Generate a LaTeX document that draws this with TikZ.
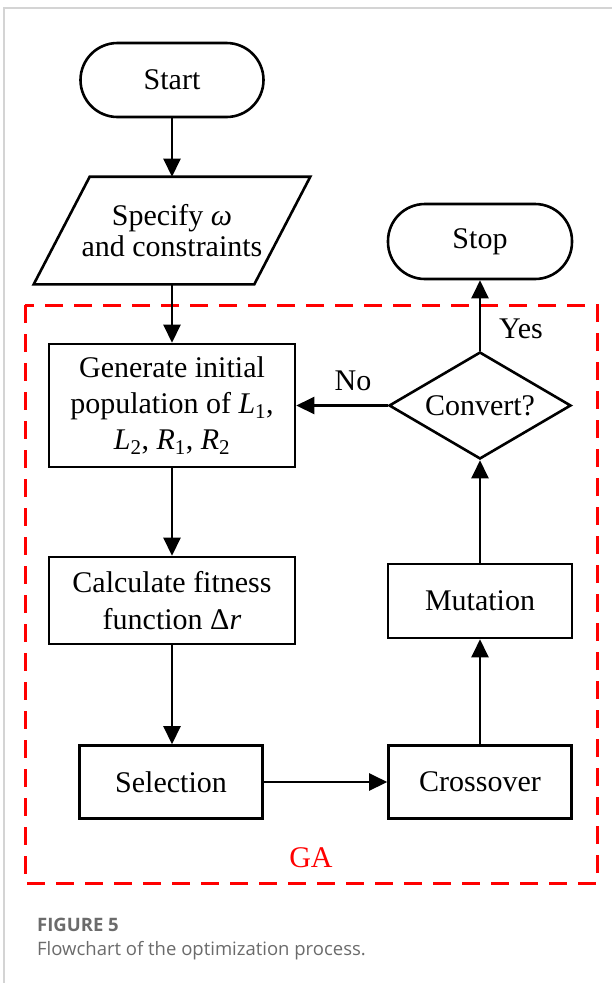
\documentclass[tikz,border=0pt]{standalone}
\usepackage{fontspec}
\setmainfont{Liberation Serif}
\newfontfamily\capfont{Open Sans}
\usetikzlibrary{shapes.geometric,arrows.meta}
\definecolor{capgray}{HTML}{6B6B6B}
\definecolor{framegray}{HTML}{D4D4D4}
\begin{document}
\begin{tikzpicture}[x=1pt,y=-1pt,
  flowbox/.style={draw, line width=2.6pt, rectangle, inner sep=0pt, align=center,
    font=\fontsize{30}{36}\selectfont},
  term/.style={flowbox, rounded corners=37pt},
  arr/.style={line width=2.5pt, -{Triangle[length=18pt,width=17pt]}},
  lbl/.style={font=\fontsize{30}{36}\selectfont, inner sep=0pt}]
\useasboundingbox (0,0) rectangle (612,983);
\fill[white] (0,0) rectangle (612,983);
\draw[framegray, line width=1.5pt] (4,983) -- (4,8) -- (612,8);
% GA region
\draw[red, line width=3pt, dash pattern=on 18pt off 11pt] (25,305) rectangle (597,883);
\node[lbl, text=red] (ga) at (311,858) {GA};
% nodes
\node[term, minimum width=183pt, minimum height=74pt] (start) at (172,80) {Start};
\node[flowbox, draw=none, minimum width=218pt, minimum height=105pt,
  font=\fontsize{30}{31}\selectfont] (spec) at (172,230.5) {Specify \textit{ω}\\and constraints};
\draw[line width=2.6pt, line join=miter]
  ([xshift=28pt]spec.north west) -- ([xshift=28pt]spec.north east) --
  ([xshift=-28pt]spec.south east) -- ([xshift=-28pt]spec.south west) -- cycle;
\node[flowbox, minimum width=246pt, minimum height=123pt] (gen) at (172,405.5)
  {Generate initial\\population of \textit{L}\textsubscript{1},\\\textit{L}\textsubscript{2}, \textit{R}\textsubscript{1}, \textit{R}\textsubscript{2}};
\node[flowbox, minimum width=246pt, minimum height=87pt, font=\fontsize{30}{37}\selectfont] (calc) at (172,600.5)
  {Calculate fitness\\function Δ\textit{r}};
\node[flowbox, minimum width=183pt, minimum height=73pt] (sel) at (171,782) {Selection};
\node[flowbox, minimum width=183pt, minimum height=73pt] (cross) at (480,782) {Crossover};
\node[flowbox, minimum width=184pt, minimum height=74pt] (mut) at (480,601) {Mutation};
\node[flowbox, shape=diamond, minimum width=182pt, minimum height=107pt, aspect=1.7] (conv) at (480,405.5) {Convert?};
\node[term, minimum width=184pt, minimum height=75pt] (stop) at (480,241.5) {Stop};
% connectors
\draw[arr] (start.south) -- (spec.north);
\draw[arr] (spec.south) -- (gen.north);
\draw[arr] (gen.south) -- (calc.north);
\draw[arr] (calc.south) -- (calc.south |- sel.north);
\draw[arr] (sel.east) -- (cross.west);
\draw[arr] (cross.north) -- (mut.south);
\draw[arr] (mut.north) -- (conv.south);
\draw[arr] (conv.north) -- (stop.south);
\draw[arr] (conv.west) -- (conv.west -| gen.east);
\node[lbl] (yes) at (521,329) {Yes};
\node[lbl] (no) at (353,381) {No};
% caption
\node[anchor=base west, inner sep=0pt, text=capgray, font=\capfont\bfseries\fontsize{18.5}{22}\selectfont] (fig) at (37,931) {FIGURE 5};
\node[anchor=base west, inner sep=0pt, text=capgray, font=\capfont\fontsize{18.5}{22}\selectfont] (cap) at (37,955) {Flowchart of the optimization process.};
\end{tikzpicture}
\end{document}
